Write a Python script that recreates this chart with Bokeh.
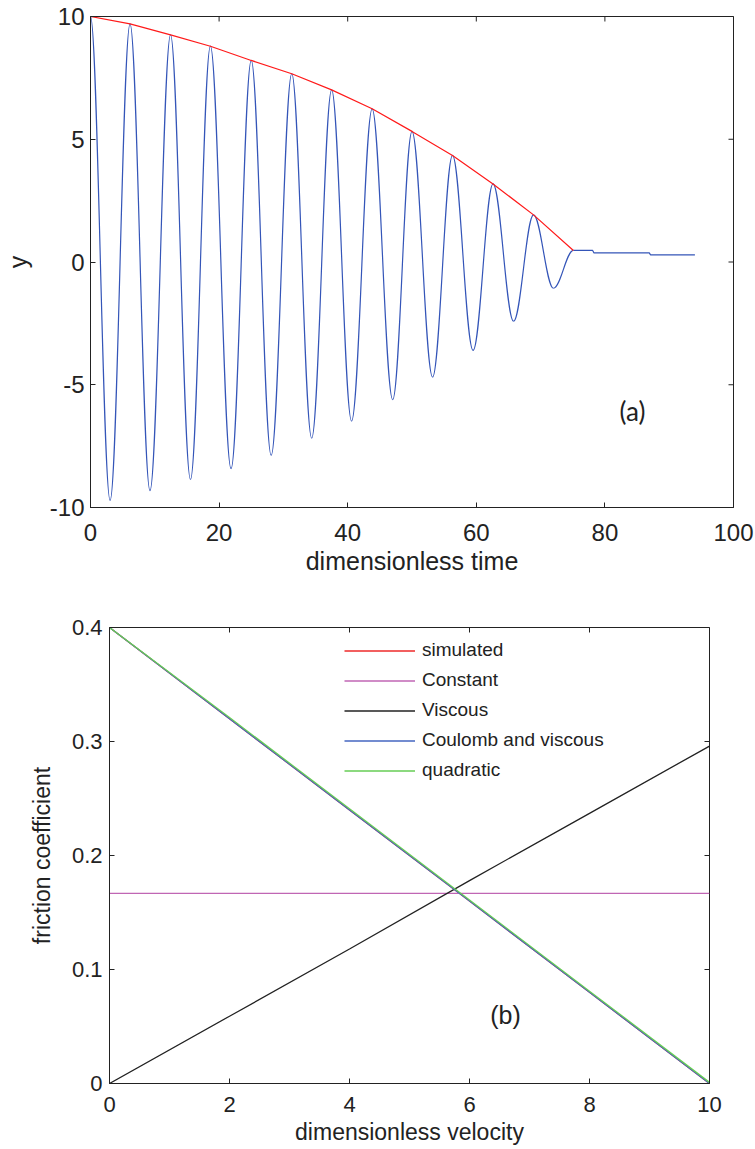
import math
from bokeh.plotting import figure
from bokeh.models import Range1d, FixedTicker, Label, ColumnDataSource
from bokeh.embed import file_html
from bokeh.resources import INLINE

# ---------------- panel (a) data: extrema ----------------
peak_t = [0.0, 6.15, 12.45, 18.65, 25.0, 31.3, 37.5, 43.8, 50.0, 56.3, 62.6, 68.9, 75.1]
peak_y = [10.0, 9.70, 9.25, 8.79, 8.21, 7.67, 7.01, 6.24, 5.32, 4.34, 3.18, 1.92, 0.47]
trough_t = [3.05, 9.25, 15.55, 21.86, 28.1, 34.4, 40.6, 47.0, 53.2, 59.5, 65.8, 72.0]
trough_y = [-9.71, -9.31, -8.86, -8.42, -7.88, -7.18, -6.48, -5.61, -4.69, -3.60, -2.41, -1.07]
settle_t = [75.1, 78.1, 78.3, 86.9, 87.1, 94.0]
settle_y = [0.47, 0.47, 0.37, 0.37, 0.29, 0.29]

time_ticks = [0, 20, 40, 60, 80, 100]
y_ticks = [-10, -5, 0, 5, 10]
y_tick_labels = ["-10", "-5", "0", "5", "10"]

# ---------------- panel (b) data ----------------
velocity = [0, 2, 4, 6, 8, 10]
simulated = [0.400, 0.320, 0.240, 0.160, 0.080, 0.000]
constant = [0.1667, 0.1667, 0.1667, 0.1667, 0.1667, 0.1667]
viscous = [0.000, 0.059, 0.118, 0.178, 0.237, 0.296]
coulomb_viscous = [0.400, 0.320, 0.240, 0.160, 0.080, 0.000]
quadratic = [0.400, 0.321, 0.241, 0.161, 0.081, 0.001]
series_names = ["simulated", "Constant", "Viscous", "Coulomb and viscous", "quadratic"]
series_colors = ["#ee2a2a", "#c066b4", "#222222", "#4466c0", "#66cc55"]

vel_ticks = [0, 2, 4, 6, 8, 10]
fric_ticks = [0, 0.1, 0.2, 0.3, 0.4]
fric_tick_labels = ["0", "0.1", "0.2", "0.3", "0.4"]

FONT = "Liberation Sans"
TXT = "#222222"
AX = "#222222"


def style_axes(p, xticks, yticks, tick_size, label_size):
    for ax in (p.below[0], p.left[0]):
        ax.major_tick_in = 5
        ax.major_tick_out = 0
        ax.minor_tick_line_color = None
        ax.axis_line_color = AX
        ax.major_tick_line_color = AX
        ax.major_label_text_font = FONT
        ax.major_label_text_font_size = tick_size
        ax.major_label_text_color = TXT
        ax.axis_label_text_font = FONT
        ax.axis_label_text_font_size = label_size
        ax.axis_label_text_font_style = "normal"
        ax.axis_label_text_color = TXT
    p.below[0].ticker = FixedTicker(ticks=xticks)
    p.left[0].ticker = FixedTicker(ticks=yticks)
    p.grid.visible = False
    p.outline_line_color = AX
    p.outline_line_width = 1
    # inward ticks on the top and right edges of the box
    xr, yr = p.x_range, p.y_range
    p.scatter(xticks, [yr.end] * len(xticks), marker="dash", angle=math.pi / 2, size=10,
              line_color=AX, line_width=1)
    p.scatter([xr.end] * len(yticks), yticks, marker="dash", angle=0, size=10,
              line_color=AX, line_width=1)


# ---------------- panel (a) ----------------
p1 = figure(width=755, height=580, output_backend="svg", toolbar_location=None,
            x_range=Range1d(0, 100), y_range=Range1d(-10, 10),
            min_border_left=88, min_border_right=22, min_border_top=16, min_border_bottom=73)

# interleave extrema, draw each half cycle as a smooth cubic curve
ext_t, ext_y = [], []
for i in range(len(peak_t)):
    ext_t.append(peak_t[i]); ext_y.append(peak_y[i])
    if i < len(trough_t):
        ext_t.append(trough_t[i]); ext_y.append(trough_y[i])
k = 0.3634
x0 = ext_t[:-1]; y0 = ext_y[:-1]; x1 = ext_t[1:]; y1 = ext_y[1:]
cx0 = [a + k * (b - a) for a, b in zip(x0, x1)]
cx1 = [b - k * (b - a) for a, b in zip(x0, x1)]
src = ColumnDataSource(dict(x0=x0, y0=y0, x1=x1, y1=y1, cx0=cx0, cy0=y0, cx1=cx1, cy1=y1))
BLUE = "#3455b8"
p1.bezier(x0="x0", y0="y0", x1="x1", y1="y1", cx0="cx0", cy0="cy0", cx1="cx1", cy1="cy1",
          source=src, line_color=BLUE, line_width=1.2)
p1.line(settle_t, settle_y, line_color=BLUE, line_width=1.2)
p1.line(peak_t, peak_y, line_color="#ff1a1a", line_width=1.2)

style_axes(p1, time_ticks, y_ticks, "24px", "25px")
p1.left[0].major_label_overrides = dict(zip(y_ticks, y_tick_labels))
p1.below[0].axis_label = "dimensionless time"
p1.left[0].axis_label = "y"
p1.below[0].major_label_standoff = 16
p1.left[0].major_label_standoff = 6
p1.below[0].axis_label_standoff = 3
p1.left[0].axis_label_standoff = 15
p1.add_layout(Label(x=84.3, y=-6.06, text="(a)", text_align="center", text_baseline="middle",
                    text_font="Lato", text_font_size="26px", text_color=TXT))

# ---------------- panel (b) ----------------
p2 = figure(width=755, height=569, output_backend="svg", toolbar_location=None,
            x_range=Range1d(0, 10), y_range=Range1d(0, 0.4),
            min_border_left=109, min_border_right=46, min_border_top=47, min_border_bottom=66)

series = [simulated, constant, viscous, coulomb_viscous, quadratic]
for name, vals, col in zip(series_names, series, series_colors):
    p2.line(velocity, vals, line_color=col, line_width=1.3, legend_label=name)

style_axes(p2, vel_ticks, fric_ticks, "22px", "23px")
p2.left[0].major_label_overrides = dict(zip(fric_ticks, fric_tick_labels))
p2.below[0].axis_label = "dimensionless velocity"
p2.left[0].axis_label = "friction coefficient"
p2.below[0].major_label_standoff = 13
p2.left[0].major_label_standoff = 7
p2.below[0].axis_label_standoff = 4
p2.left[0].axis_label_standoff = 14

lg = p2.legend[0]
lg.location = (235, 302)
lg.padding = 0
lg.margin = 0
lg.border_line_alpha = 0
lg.background_fill_alpha = 0
lg.glyph_width = 71
lg.glyph_height = 21
lg.label_height = 21
lg.spacing = 8
lg.label_standoff = 7
lg.label_text_font = FONT
lg.label_text_font_size = "19px"
lg.label_text_color = TXT

p2.add_layout(Label(x=6.6, y=0.06, text="(b)", text_align="center", text_baseline="middle",
                    text_font=FONT, text_font_size="25px", text_color=TXT))

open("out.html", "w").write(file_html((p1, p2), INLINE))
